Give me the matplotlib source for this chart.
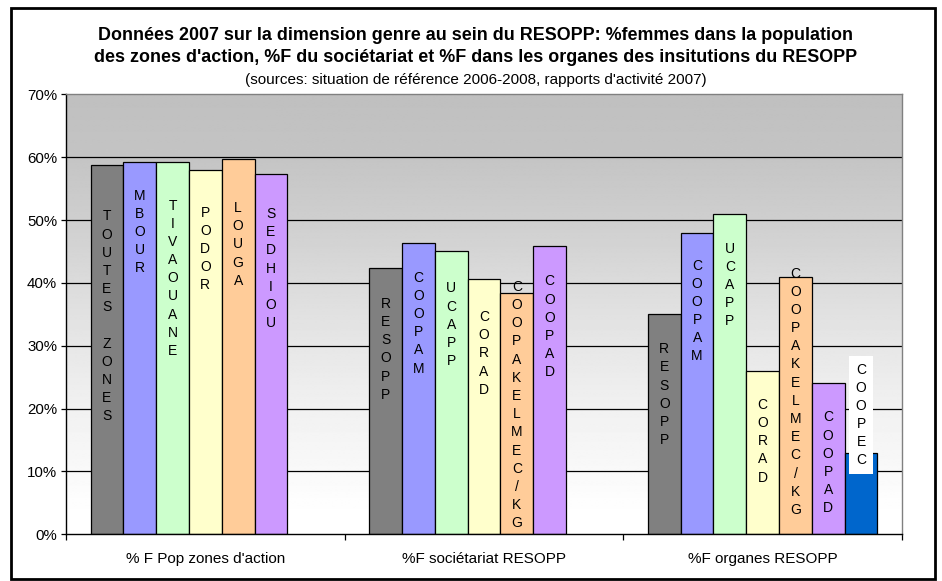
import numpy as np
import matplotlib
matplotlib.use("Agg")
import matplotlib.pyplot as plt
from matplotlib.patches import Rectangle

plt.rcParams['font.family'] = ['Liberation Sans', 'DejaVu Sans']

# ---------------- data ----------------
categories = ["% F Pop zones d'action", "%F sociétariat RESOPP", "%F organes RESOPP"]

names_pop = ["TOUTES ZONES", "MBOUR", "TIVAOUANE", "PODOR", "LOUGA", "SEDHIOU"]
values_pop = [58.7, 59.3, 59.3, 58.0, 59.7, 57.3]

names_soc = ["RESOPP", "COOPAM", "UCAPP", "CORAD", "COOPAKELMEC/KG", "COOPAD"]
values_soc = [42.4, 46.4, 45.0, 40.6, 38.4, 45.8]

names_org = ["RESOPP", "COOPAM", "UCAPP", "CORAD", "COOPAKELMEC/KG", "COOPAD", "COOPEC"]
values_org = [35.0, 48.0, 51.0, 26.0, 41.0, 24.0, 13.0]

ytick_values = [0, 10, 20, 30, 40, 50, 60, 70]
ytick_labels = ["0%", "10%", "20%", "30%", "40%", "50%", "60%", "70%"]

title_line1 = "Données 2007 sur la dimension genre au sein du RESOPP: %femmes dans la population"
title_line2 = "des zones d'action, %F du sociétariat et %F dans les organes des insitutions du RESOPP"
subtitle = "(sources: situation de référence 2006-2008, rapports d'activité 2007)"

# ---------------- style ----------------
slot_colors = ["#808080", "#9999FF", "#CCFFCC", "#FFFFCC", "#FFCC99", "#CC99FF", "#0066CC"]
n_slots = 7
bar_w = 1.0 / (n_slots + 1.5)
# distance (pixels) from bar top down to the top of its vertical label
drops = [
    [44, 27, 37, 36, 42, 33],
    [29, 28, 30, 31, -13, 28],
    [28, 26, 28, 27, -10, 27, -90],
]

W, H = 942, 581
fig = plt.figure(figsize=(W / 100, H / 100), dpi=100)
ax_l, ax_r, ax_t, ax_b = 66, 902, 94.3, 534.3
ax = fig.add_axes([ax_l / W, (H - ax_b) / H, (ax_r - ax_l) / W, (ax_b - ax_t) / H])

ax.set_xlim(-0.5, 2.5)
ax.set_ylim(0, 70)

# gradient background
ys = np.linspace(0, 70, 400)
stops_y = [0, 5, 10, 20, 30, 40, 50, 60, 70]
stops_v = [1.0, 0.995, 0.975, 0.945, 0.905, 0.86, 0.81, 0.77, 0.75]
vals = np.interp(ys, stops_y, stops_v)
img = np.repeat(vals[:, None], 2, axis=1)
ax.imshow(img, extent=(-0.5, 2.5, 0, 70), origin='lower', aspect='auto',
          cmap='gray', vmin=0, vmax=1, zorder=0, interpolation='bilinear')

# gridlines
for y in ytick_values[1:-1]:
    ax.axhline(y, color='black', lw=0.9, zorder=1)

groups = [(names_pop, values_pop), (names_soc, values_soc), (names_org, values_org)]
for ci, (names, values) in enumerate(groups):
    for si, (nm, v) in enumerate(zip(names, values)):
        x = ci - n_slots * bar_w / 2 + (si + 0.5) * bar_w
        ax.bar(x, v, width=bar_w, color=slot_colors[si], edgecolor='black',
               linewidth=0.9, zorder=2)
        txt = "\n".join(list(nm))
        kw = {}
        if nm == "COOPEC":
            kw['bbox'] = dict(boxstyle='square,pad=0.45', facecolor='white', edgecolor='none')
        ax.annotate(txt, xy=(x, v), xytext=(0, -drops[ci][si]),
                    textcoords='offset pixels', ha='center', va='top',
                    fontsize=10, linespacing=1.38, color='black', zorder=4,
                    annotation_clip=False, **kw)

# spines
for s in ['top', 'right']:
    ax.spines[s].set_color('#808080')
    ax.spines[s].set_linewidth(1.0)
for s in ['left', 'bottom']:
    ax.spines[s].set_color('black')
    ax.spines[s].set_linewidth(1.0)

ax.set_yticks(ytick_values)
ax.set_yticklabels(ytick_labels, fontsize=10.8)
ax.tick_params(axis='y', direction='out', length=3.5, width=0.9, pad=3)

ax.set_xticks(range(len(categories)))
ax.set_xticklabels(categories, fontsize=11)
ax.tick_params(axis='x', which='major', length=0, pad=12.5)
ax.set_xticks([-0.5, 0.5, 1.5, 2.5], minor=True)
ax.tick_params(axis='x', which='minor', direction='out', length=4, width=0.9)

# titles
fig.text(476 / W, 1 - 35.5 / H, title_line1, ha='center', va='center',
         fontsize=12.9, fontweight='bold')
fig.text(476 / W, 1 - 57.5 / H, title_line2, ha='center', va='center',
         fontsize=12.9, fontweight='bold')
fig.text(476 / W, 1 - 80 / H, subtitle, ha='center', va='center', fontsize=11)

# outer border
fig.patches.append(Rectangle((10.5 / W, 1 - 579 / H), (935 - 10.5) / W, (579 - 7.5) / H,
                             transform=fig.transFigure, fill=False,
                             edgecolor='black', linewidth=2.0))

fig.savefig("out.png", dpi=100)
